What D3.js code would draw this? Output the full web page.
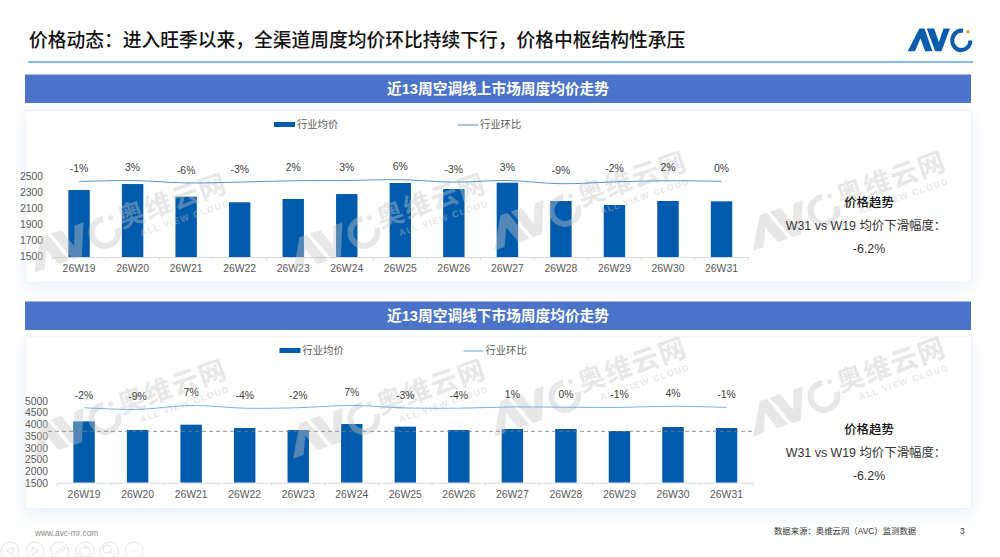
<!DOCTYPE html>
<html lang="zh-CN">
<head>
<meta charset="UTF-8">
<title>价格动态</title>
<script src="https://d3js.org/d3.v7.min.js"></script>
<style>
  html, body { margin: 0; padding: 0; background: #fff; }
  svg { display: block; }
  text { font-family: "Liberation Sans", "Noto Sans CJK SC", sans-serif; }
</style>
</head>
<body>
<svg id="chart" width="1000" height="557"></svg>
<script>
var weeks = ['26W19','26W20','26W21','26W22','26W23','26W24','26W25','26W26','26W27','26W28','26W29','26W30','26W31'];

var onlinePrice = [2337,2412,2254,2184,2225,2287,2425,2350,2429,2200,2150,2200,2196];
var onlinePct = [-1,3,-6,-3,2,3,6,-3,3,-9,-2,2,0];
var onlineTicks = [1500,1700,1900,2100,2300,2500];

var offlinePrice = [4128,3757,3985,3843,3757,4014,3900,3757,3800,3800,3714,3885,3843];
var offlinePct = [-2,-9,7,-4,-2,7,-3,-4,1,0,-1,4,-1];
var offlineTicks = [1500,2000,2500,3000,3500,4000,4500,5000];
var offlineAvg = 3700;

var titleText = '价格动态\uFF1A进入旺季以来\uFF0C全渠道周度均价环比持续下行\uFF0C价格中枢结构性承压';
var legendNames = ['行业均价','行业环比'];
var sideText = ['价格趋势','W31 vs W19 均价下滑幅度\uFF1A','-6.2%'];
var sourceText = '数据来源\uFF1A奥维云网\uFF08AVC\uFF09监测数据';

var barColor = '#005bac', headColor = '#4a73c9', gray = '#595959';

var svg = d3.select('#chart');
var defs = svg.append('defs');
var shadow = defs.append('filter').attr('id','soft')
  .attr('x','-5%').attr('y','-15%').attr('width','110%').attr('height','130%');
shadow.append('feDropShadow').attr('dx',0).attr('dy',5).attr('stdDeviation',8)
  .attr('flood-color','#d5e1f2').attr('flood-opacity',0.55);

// logo, drawn in a 194 x 63 box
var cArc = d3.arc().innerRadius(21).outerRadius(33).startAngle(Math.PI/2).endAngle(2*Math.PI+0.2);
function logo(g, color, dotColor) {
  g.append('path').attr('fill',color).attr('d','M0,63L35,0H50L74,63H52L38,27L22,63Z');
  g.append('path').attr('fill',color).attr('d','M57,0H79L93,38L107,0H126L101,63H82Z');
  g.append('path').attr('fill',color).attr('transform','translate(160,33)').attr('d',cArc());
  g.append('circle').attr('cx',180).attr('cy',9).attr('r',5).attr('fill',dotColor);
}

function watermark(x, y) {
  var c = 'rgba(198,198,198,0.42)';
  var g = svg.append('g').attr('transform','translate('+x+','+y+') rotate(-19)');
  logo(g.append('g').attr('transform','translate(0,-34) scale(0.5)'), c, c);
  g.append('text').attr('x',97).attr('y',-16).attr('font-size',27).attr('font-weight',700)
    .attr('letter-spacing',1.5).attr('fill',c).text('奥维云网');
  g.append('text').attr('x',113).attr('y',-2).attr('font-size',9).attr('font-weight',700)
    .attr('letter-spacing',1.2).attr('fill',c).text('ALL VIEW CLOUD');
}

function drawChart(o) {
  // header and panel
  svg.append('rect').attr('x',25).attr('y',o.headY).attr('width',946).attr('height',28.5).attr('fill',headColor);
  svg.append('text').attr('x',498).attr('y',o.headY+14.5).attr('dy','.35em').attr('text-anchor','middle')
    .attr('font-size',14.7).attr('font-weight',700).attr('fill','#fff').text(o.head);
  svg.append('rect').attr('x',25.5).attr('y',o.panelY).attr('width',946).attr('height',171.5)
    .attr('fill','#fff').attr('stroke','#edf2f9').attr('filter','url(#soft)');

  var x = d3.scaleBand().domain(weeks).range([o.x0,o.x1]).paddingInner(0.6).paddingOuter(0.3);
  var y = d3.scaleLinear().domain([o.ticks[0],o.ticks[o.ticks.length-1]]).range([o.base,o.top]);
  var yPct = d3.scaleLinear().domain([-10,10]).range(o.pctRange);
  var mid = function(d){ return x(d)+x.bandwidth()/2; };

  // bars
  svg.append('g').selectAll('rect').data(weeks).join('rect')
    .attr('x',function(d){ return x(d); })
    .attr('width',x.bandwidth())
    .attr('y',function(d,i){ return y(o.price[i]); })
    .attr('height',function(d,i){ return o.base-y(o.price[i]); })
    .attr('fill',barColor);

  // axes
  var yAxis = d3.axisLeft(y).tickValues(o.ticks).tickSize(0).tickPadding(0).tickFormat(d3.format('d'));
  var ya = svg.append('g').attr('transform','translate('+o.yLabelX+',0)').call(yAxis);
  ya.select('.domain').remove();
  ya.selectAll('text').attr('font-size',10.4).attr('fill',gray).attr('dy',o.yDy);

  var xAxis = d3.axisBottom(x).tickSize(0).tickPadding(8);
  var xa = svg.append('g').attr('transform','translate(0,'+o.base+')').call(xAxis);
  xa.select('.domain').attr('stroke','#d9d9d9');
  xa.selectAll('text').attr('font-size',10.4).attr('fill',gray);
  // ticks sit on the band edges
  xa.append('g').selectAll('line').data(d3.range(weeks.length+1)).join('line')
    .attr('x1',function(i){ return o.x0+i*x.step(); })
    .attr('x2',function(i){ return o.x0+i*x.step(); })
    .attr('y1',0).attr('y2',3).attr('stroke','#d9d9d9');

  // watermarks sit over the bars
  o.marks.forEach(function(m){ watermark(m[0],m[1]); });

  if (o.avg) {
    svg.append('line').attr('x1',48).attr('x2',o.x1+2).attr('y1',y(o.avg)).attr('y2',y(o.avg))
      .attr('stroke','#7f7f7f').attr('stroke-width',0.8).attr('stroke-dasharray','4,3');
  }

  // pct line and labels
  var line = d3.line().x(function(d){ return mid(d); })
    .y(function(d,i){ return yPct(o.pct[i]); }).curve(d3.curveCatmullRom);
  svg.append('path').datum(weeks).attr('d',line).attr('fill','none')
    .attr('stroke',o.lineColor).attr('stroke-width',0.9);
  svg.append('g').selectAll('text').data(weeks).join('text')
    .attr('x',function(d){ return mid(d); })
    .attr('y',function(d,i){ return yPct(o.pct[i])-o.labelGap; })
    .attr('dy','.35em').attr('text-anchor','middle').attr('font-size',10.4).attr('fill','#404040')
    .text(function(d,i){ return o.pct[i]+'%'; });

  // legend
  svg.append('rect').attr('x',o.legX).attr('y',o.legY-2.5).attr('width',21).attr('height',5).attr('fill',barColor);
  svg.append('text').attr('x',o.legX+23).attr('y',o.legY).attr('dy','.35em').attr('font-size',10.3).attr('fill',gray).text(legendNames[0]);
  svg.append('line').attr('x1',o.legX+184).attr('x2',o.legX+204).attr('y1',o.legY+0.5).attr('y2',o.legY+0.5)
    .attr('stroke',o.lineColor).attr('stroke-width',1);
  svg.append('text').attr('x',o.legX+206).attr('y',o.legY).attr('dy','.35em').attr('font-size',10.3).attr('fill',gray).text(legendNames[1]);

  // side note
  svg.append('g').selectAll('text').data(sideText).join('text')
    .attr('x',866).attr('y',function(d,i){ return o.sideY+i*22.7; })
    .attr('dy','.35em').attr('text-anchor','middle')
    .attr('font-size',function(d,i){ return i==0 ? 12.4 : 12.4; })
    .attr('font-weight',function(d,i){ return i==0 ? 500 : 400; })
    .attr('dx',function(d,i){ return i==1 ? 0 : 3; })
    .attr('fill',function(d,i){ return i==0 ? '#111' : '#333'; })
    .text(function(d){ return d; });
}

// title
svg.append('text').attr('x',29).attr('y',40).attr('dy','.35em').attr('font-size',18.75)
  .attr('font-weight',500).attr('fill','#111').text(titleText);
svg.append('line').attr('x1',28).attr('x2',973).attr('y1',62).attr('y2',62)
  .attr('stroke','#5aa5e0').attr('stroke-width',1.4);
logo(svg.append('g').attr('transform','translate(907.7,28.5) scale(0.335,0.36)'), '#0b5cad', '#f39a1e');

drawChart({
  head:'近13周空调线上市场周度均价走势', headY:74.5, panelY:110.5,
  price:onlinePrice, pct:onlinePct, ticks:onlineTicks,
  x0:52.3, x1:748.3, base:257, top:177, yLabelX:43, yDy:'.22em',
  pctRange:[184,178.6], labelGap:13, lineColor:'#4a86bf',
  legX:274, legY:124.5, sideY:203,
  marks:[[35,275],[294,275],[495,253],[754,253]]
});
drawChart({
  head:'近13周空调线下市场周度均价走势', headY:301.5, panelY:337,
  price:offlinePrice, pct:offlinePct, ticks:offlineTicks, avg:offlineAvg,
  x0:57.3, x1:753.3, base:482.7, top:401, yLabelX:48, yDy:'.32em',
  pctRange:[409.7,404.7], labelGap:12.7, lineColor:'#6ea6dc',
  legX:279.5, legY:350.5, sideY:430,
  marks:[[35,461],[294,461],[495,439],[754,439]]
});

// footer
svg.append('text').attr('x',35).attr('y',533).attr('dy','.35em').attr('font-size',8.4).attr('fill','#8c8c8c').text('www.avc-mr.com');
svg.append('text').attr('x',774).attr('y',531).attr('dy','.35em').attr('font-size',8.4).attr('fill','#333').text(sourceText);
svg.append('text').attr('x',960).attr('y',531).attr('dy','.35em').attr('font-size',8.4).attr('fill','#333').text('3');

// slide player buttons
var btnX = [10,35,59.5,85,109.5,134];
var btn = svg.append('g').attr('fill','none').attr('stroke','#dcdcdc').attr('stroke-width',0.8);
btn.selectAll('circle').data(btnX).join('circle').attr('cx',function(d){ return d; }).attr('cy',551).attr('r',9);
var glyphs = ['M13,547L7,551L13,555Z','M32,547L38,551L32,555Z','M55,556L57,552L63,546L65,548L59,554Z',
  'M80,548H90V556H80ZM83,546H87V548','M107,545A4,4 0 1,0 107.01,545ZM110,552L115,557','M130,551h1M134,551h1M138,551h1'];
btn.selectAll('path').data(glyphs).join('path').attr('d',function(d){ return d; });
</script>
</body>
</html>
